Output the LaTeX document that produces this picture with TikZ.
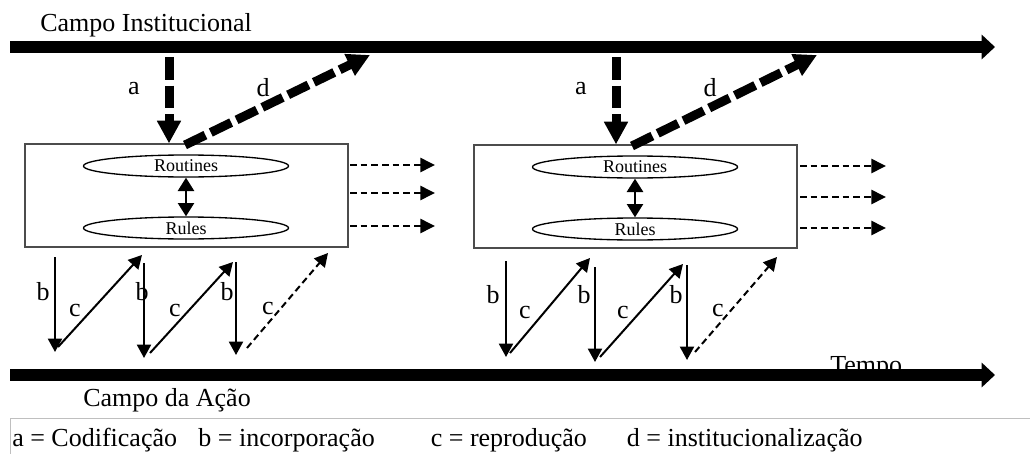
\documentclass[tikz,border=0pt]{standalone}
\usepackage{fontspec}
\setmainfont{Liberation Serif}
\usetikzlibrary{arrows.meta,shapes.geometric}
\begin{document}
\begin{tikzpicture}[x=0.75pt,y=-0.75pt,
  lbl/.style={font=\fontsize{19.5}{22}\selectfont, inner sep=0pt},
  small/.style={font=\fontsize{13.5}{15}\selectfont},
  timeline/.style={line width=9pt, -{Triangle[length=10pt,width=18pt]}},
  fieldarrow/.style={line width=6.75pt, dash pattern=on 17pt off 4.5pt, -{Triangle[length=17pt,width=17pt]}},
  unitbox/.style={draw=black!70, line width=0.9pt, minimum width=242.25pt, minimum height=77.25pt, inner sep=0pt},
  oval/.style={ellipse, draw, line width=1pt, minimum width=153.75pt, minimum height=16.5pt, inner sep=0pt, small},
  linkarrow/.style={line width=1.9pt, {Triangle[length=10pt,width=12pt]}-{Triangle[length=10pt,width=12pt]}},
  outarrow/.style={line width=1.9pt, dash pattern=on 5pt off 3pt, -{Triangle[length=11pt,width=10.5pt]}},
  thinarrow/.style={line width=1.5pt, -{Triangle[length=10pt,width=10.5pt]}},
  thindashed/.style={thinarrow, dash pattern=on 5pt off 3pt},
]
\useasboundingbox (0,0) rectangle (1030,453);
\clip (0,0) rectangle (1030,453);

% --- institutional field (top) and action field / time (bottom)
\node[lbl, anchor=base west] (inst) at (40,32) {Campo Institucional};
\coordinate (top0) at (10,47);
\coordinate (top1) at (995,47);
\draw[timeline] (top0) -- (top1);

\node[lbl, anchor=base west] (tempo) at (830,373) {Tempo};
\coordinate (bot0) at (10,375);
\coordinate (bot1) at (995,375);
\draw[timeline] (bot0) -- (bot1);
\node[lbl, anchor=base west] (acao) at (83,406) {Campo da Ação};

% --- legend
\node[draw=black!25, line width=1.1pt, minimum width=780pt, minimum height=45pt, anchor=north west] (legbox) at (10,418) {};
\node[lbl, anchor=base west] (legend) at (12,446)
  {a = Codificação\hspace{16pt}b = incorporação\hspace{42pt}c = reprodução\hspace{30pt}d = institucionalização};

% --- two organisational units
\foreach \n/\cx/\cy in {1/186.5/195.5, 2/635.5/196.5}{
  \node[unitbox] (box\n) at (\cx,\cy) {};
}
\node[oval] (rout1) at (186,166) {Routines};
\node[oval] (rule1) at (186,228) {Rules};
\node[oval] (rout2) at (635,167) {Routines};
\node[oval] (rule2) at (635,229) {Rules};
\draw[linkarrow] (rout1.south) -- (rule1.north);
\draw[linkarrow] (rout2.south) -- (rule2.north);

% --- codification (a) and institutionalisation (d)
\coordinate (a1s) at (169,57);
\coordinate (a2s) at (616,57);
\draw[fieldarrow] (a1s) -- (a1s |- box1.north);
\draw[fieldarrow] (a2s) -- (a2s |- box2.north);
\coordinate (d1s) at (185,145);
\coordinate (d1e) at (370,55);
\coordinate (d2s) at (632,146);
\coordinate (d2e) at (817,55);
\draw[fieldarrow] (d1s) -- (d1e);
\draw[fieldarrow] (d2s) -- (d2e);
\node[lbl] (la1) at (134,89) {a};
\node[lbl] (ld1) at (263,88) {d};
\node[lbl] (la2) at (581,89) {a};
\node[lbl] (ld2) at (710,88) {d};

% --- outgoing dashed arrows
\foreach \n/\xs/\xe/\ya/\yb/\yc in {1/350/435/165/193/226, 2/800/886/166/197/228}{
  \coordinate (o\n a) at (\xs,\ya); \coordinate (e\n a) at (\xe,\ya);
  \coordinate (o\n b) at (\xs,\yb); \coordinate (e\n b) at (\xe,\yb);
  \coordinate (o\n c) at (\xs,\yc); \coordinate (e\n c) at (\xe,\yc);
  \draw[outarrow] (o\n a) -- (e\n a);
  \draw[outarrow] (o\n b) -- (e\n b);
  \draw[outarrow] (o\n c) -- (e\n c);
}

% --- incorporation (b) / reproduction (c) zigzags
\foreach \n/\bx/\bt/\bb/\cxs/\cys/\cxe/\cye/\lbx/\lby/\lcx/\lcy/\sty in {
  11/55/257/352/58/347/142/255/43/292/75/310/thinarrow,
  12/144/263/358/150/353/233/262/142/292/175/310/thinarrow,
  13/236/262/355/247/348/328/253/227/292/268/308/thindashed,
  21/506/261/357/510/353/590/258/493/295/525/312/thinarrow,
  22/595/267/362/600/357/683/264/584/295/623/312/thinarrow,
  23/687/265/360/695/352/777/257/676/295/718/310/thindashed}{
  \coordinate (bs\n) at (\bx,\bt);
  \coordinate (be\n) at (\bx,\bb);
  \coordinate (cs\n) at (\cxs,\cys);
  \coordinate (ce\n) at (\cxe,\cye);
  \draw[thinarrow] (bs\n) -- (be\n);
  \draw[\sty] (cs\n) -- (ce\n);
  \node[lbl] (lb\n) at (\lbx,\lby) {b};
  \node[lbl] (lc\n) at (\lcx,\lcy) {c};
}
\end{tikzpicture}
\end{document}
